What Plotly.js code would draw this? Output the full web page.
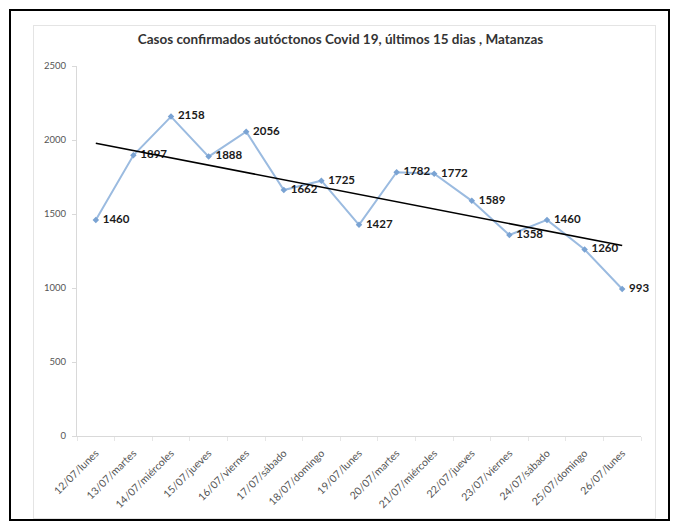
<!DOCTYPE html>
<html><head><meta charset="utf-8">
<script src="https://cdn.plot.ly/plotly-3.0.1.min.js"></script>
<style>
html,body{margin:0;padding:0;background:#fff;}
#wrap{position:relative;width:681px;height:529px;}
#frame{position:absolute;left:9px;top:9px;width:661px;height:512px;border:2px solid #000;box-sizing:border-box;pointer-events:none;z-index:2;}
#inner{position:absolute;left:33px;top:25px;width:623px;height:494px;border:1px solid #e4e4e4;box-sizing:border-box;pointer-events:none;z-index:2;}
#chart{position:absolute;left:0;top:0;width:681px;height:529px;}
</style></head>
<body><div id="wrap"><div id="chart"></div><div id="inner"></div><div id="frame"></div></div>
<script>
const categories = ["12/07/lunes","13/07/martes","14/07/miércoles","15/07/jueves","16/07/viernes","17/07/sábado","18/07/domingo","19/07/lunes","20/07/martes","21/07/miércoles","22/07/jueves","23/07/viernes","24/07/sábado","25/07/domingo","26/07/lunes"];
const cases = [1460,1897,2158,1888,2056,1662,1725,1427,1782,1772,1589,1358,1460,1260,993];
const yTicks = [0,500,1000,1500,2000,2500];

// linear trendline (least squares) over category index
const n = cases.length;
const xs = cases.map((_, i) => i + 1);
const mx = xs.reduce((a, b) => a + b, 0) / n;
const my = cases.reduce((a, b) => a + b, 0) / n;
let sxy = 0, sxx = 0;
for (let i = 0; i < n; i++) { sxy += (xs[i] - mx) * (cases[i] - my); sxx += (xs[i] - mx) ** 2; }
const slope = sxy / sxx, icpt = my - slope * mx;
const trend = [categories[0], categories[n - 1]];
const trendY = [icpt + slope * 1, icpt + slope * n];

const font = "Lato, 'Open Sans', sans-serif";
const data = [
  {x: categories, y: cases, type: 'scatter', mode: 'lines+markers+text',
   line: {color: '#9bbbe0', width: 2},
   marker: {symbol: 'diamond', size: 5, color: '#7aa3d3'},
   text: cases.map(String), textposition: 'middle right',
   textfont: {family: font, size: 11.5, color: '#1a1a1a'},
   texttemplate: '<b> %{text}</b>', cliponaxis: false, hoverinfo: 'none'},
  {x: trend, y: trendY, type: 'scatter', mode: 'lines',
   line: {color: '#000', width: 1.6}, hoverinfo: 'none'}
];
const layout = {
  width: 681, height: 529,
  margin: {l: 77, r: 40, t: 66, b: 93},
  paper_bgcolor: '#fff', plot_bgcolor: '#fff',
  showlegend: false,
  title: {text: '<b>Casos confirmados autóctonos Covid 19, últimos 15 dias , Matanzas</b>',
          font: {family: font, size: 13.5, color: '#333'}, x: 0.5, xanchor: 'center', y: 0.925, yanchor: 'middle'},
  xaxis: {type: 'category', range: [-0.5, 14.5], tickangle: -45,
          tickfont: {family: font, size: 10.5, color: '#555'},
          showgrid: false, zeroline: false, showline: true, linecolor: '#d9d9d9', linewidth: 1,
          ticks: 'outside', ticklen: 4, tickcolor: '#e6e6e6', tickson: 'boundaries', ticklabelstandoff: 6},
  yaxis: {range: [0, 2500], tickvals: yTicks, ticktext: yTicks.map(String),
          tickfont: {family: font, size: 9.5, color: '#555'},
          showgrid: false, zeroline: false, showline: true, linecolor: '#d9d9d9', linewidth: 1,
          ticks: 'outside', ticklen: 4, tickcolor: '#d9d9d9', ticklabelstandoff: 4}
};
Plotly.newPlot('chart', data, layout, {displayModeBar: false, staticPlot: true});
</script></body></html>
